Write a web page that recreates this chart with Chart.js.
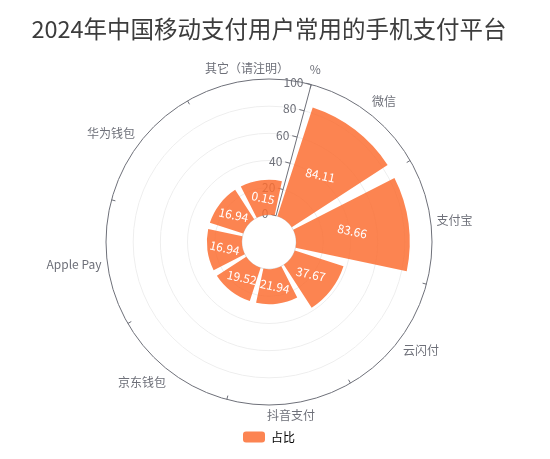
<!DOCTYPE html>
<html>
<head>
<meta charset="utf-8">
<title>2024年中国移动支付用户常用的手机支付平台</title>
<script src="https://cdn.jsdelivr.net/npm/chart.js@4.4.1/dist/chart.umd.min.js"></script>
<style>
  html, body { margin: 0; padding: 0; background: #fff; }
  #wrap { width: 550px; height: 459px; }
</style>
</head>
<body>
<div id="wrap"><canvas id="mycanvas"></canvas></div>
<script>
var categories = ['微信', '支付宝', '云闪付', '抖音支付', '京东钱包', 'Apple Pay', '华为钱包', '其它（请注明）'];
var shares = [84.11, 83.66, 37.67, 21.94, 19.52, 16.94, 16.94, 0.15];
var radiusTicks = [0, 20, 40, 60, 80, 100];
var seriesName = '占比';
var unitName = '%';

var barColor = '#fc8452';
var barFill = 'rgba(251, 110, 51, 0.85)';   // shows as barColor on white, lets the axis show through a bit
var axisColor = '#6e7079';
var fontFamily = "'Noto Sans CJK SC', 'Noto Sans', sans-serif";
var barAngle = 39;
var gapAngle = 6;
var minBarPx = 35;   // short bars get a minimum length, like the original

// polarArea lets every entry have its own angle, so an empty entry before each bar makes the gap
var polarData = [];
for (var i = 0; i < shares.length; i++) {
	polarData.push(null);
	polarData.push(shares[i]);
}

var polarExtras = {
	id: 'polarExtras',
	beforeDatasetsDraw: function(chart) {
		var ctx = chart.ctx;
		var scale = chart.scales.r;
		var base = scale.getDistanceFromCenterForValue(0);
		var outer = scale.getDistanceFromCenterForValue(radiusTicks[radiusTicks.length - 1]);

		// bars start at the zero ring, not in the middle
		chart.getDatasetMeta(0).data.forEach(function(arc, i) {
			if (!(i % 2)) return;
			arc.innerRadius = base;
			if (arc.outerRadius < base + minBarPx) arc.outerRadius = base + minBarPx;
		});

		ctx.save();
		ctx.strokeStyle = axisColor;
		ctx.lineWidth = 1;

		// small ticks on the outer ring at the category borders
		for (var k = 0; k < categories.length; k++) {
			var a = scale.getPointPosition(k, outer);
			var b = scale.getPointPosition(k, outer - 4);
			ctx.beginPath();
			ctx.moveTo(a.x, a.y);
			ctx.lineTo(b.x, b.y);
			ctx.stroke();
		}

		// category labels, centred near top and bottom like the original
		ctx.font = '12px ' + fontFamily;
		ctx.fillStyle = axisColor;
		categories.forEach(function(name, k) {
			var p = scale.getPointPosition(k, outer + 6, Math.PI / categories.length);
			var s = Math.sin(p.angle + Math.PI / 2), c = Math.cos(p.angle + Math.PI / 2);
			ctx.textAlign = Math.abs(s) < 0.3 ? 'center' : (s > 0 ? 'left' : 'right');
			ctx.textBaseline = Math.abs(c) < 0.3 ? 'middle' : (c > 0 ? 'bottom' : 'top');
			ctx.fillText(name, p.x, p.y);
		});

		// radius axis with upright tick labels
		var first = scale.getPointPositionForValue(0, radiusTicks[0]);
		var last = scale.getPointPositionForValue(0, radiusTicks[radiusTicks.length - 1]);
		ctx.beginPath();
		ctx.moveTo(first.x, first.y);
		ctx.lineTo(last.x, last.y);
		ctx.stroke();

		var ang = scale.getIndexAngle(0);
		var nx = -Math.cos(ang), ny = -Math.sin(ang);
		ctx.textAlign = 'right';
		ctx.textBaseline = 'middle';
		radiusTicks.forEach(function(v) {
			var p = scale.getPointPositionForValue(0, v);
			ctx.beginPath();
			ctx.moveTo(p.x, p.y);
			ctx.lineTo(p.x + nx * 5, p.y + ny * 5);
			ctx.stroke();
			ctx.fillText(String(v), p.x + nx * 8, p.y + ny * 8);
		});
		var pn = scale.getPointPosition(0, outer + 16);
		ctx.textAlign = 'center';
		ctx.fillText(unitName, pn.x, pn.y);
		ctx.restore();
	},
	afterDatasetsDraw: function(chart) {
		var ctx = chart.ctx;
		var scale = chart.scales.r;
		var cx = scale.xCenter, cy = scale.yCenter;
		var base = scale.getDistanceFromCenterForValue(0);
		ctx.save();
		ctx.font = '12px ' + fontFamily;
		ctx.fillStyle = '#fff';
		ctx.textAlign = 'center';
		ctx.textBaseline = 'middle';
		chart.getDatasetMeta(0).data.forEach(function(arc, i) {
			if (!(i % 2)) return;
			var a = (arc.startAngle + arc.endAngle) / 2;
			var r = (base + arc.outerRadius) / 2;
			ctx.save();
			ctx.translate(cx + Math.cos(a) * r, cy + Math.sin(a) * r);
			ctx.rotate(12 * Math.PI / 180);
			ctx.fillText(String(shares[(i - 1) / 2]), 0, 0);
			ctx.restore();
		});
		ctx.restore();
	}
};

var ctx = document.getElementById('mycanvas');
var PolarChart = new Chart(ctx, {
	type: 'polarArea',
	data: {
		labels: categories,
		datasets: [{
			label: seriesName,
			data: polarData,
			backgroundColor: function(c) { return c.dataIndex % 2 ? barFill : 'rgba(0,0,0,0)'; },
			borderWidth: 0,
			angle: function(c) {
				if (c.dataIndex % 2) return barAngle;
				return c.dataIndex === 0 ? gapAngle / 2 : gapAngle;
			}
		}]
	},
	options: {
		responsive: true,
		maintainAspectRatio: false,
		animation: false,
		layout: { padding: { left: 0, right: 12, top: 0, bottom: 6 } },
		scales: {
			r: {
				min: -20,
				max: 100,
				startAngle: 15,
				ticks: { display: false, stepSize: 20 },
				angleLines: { display: false },
				grid: {
					circular: true,
					lineWidth: 1,
					color: function(c) {
						if (!c.tick || c.tick.value < 0) return 'rgba(0,0,0,0)';
						if (c.tick.value === 0) return '#dddddd';
						return c.tick.value >= 100 ? axisColor : '#eeeeee';
					}
				},
				pointLabels: { display: false }
			}
		},
		plugins: {
			title: {
				display: true,
				text: '2024年中国移动支付用户常用的手机支付平台',
				color: '#3c3c3c',
				font: { size: 23.5, weight: 'normal', family: fontFamily },
				padding: { top: 15, bottom: 35 }
			},
			legend: {
				position: 'bottom',
				onClick: function() {},
				labels: {
					boxWidth: 22,
					boxHeight: 11,
					padding: 25,
					useBorderRadius: true,
					borderRadius: 3,
					color: '#333',
					font: { size: 12, family: fontFamily },
					generateLabels: function() {
						return [{ text: seriesName, fillStyle: barColor, strokeStyle: barColor, lineWidth: 0, hidden: false, borderRadius: 3 }];
					}
				}
			},
			tooltip: { enabled: false }
		}
	},
	plugins: [polarExtras]
});
</script>
</body>
</html>
